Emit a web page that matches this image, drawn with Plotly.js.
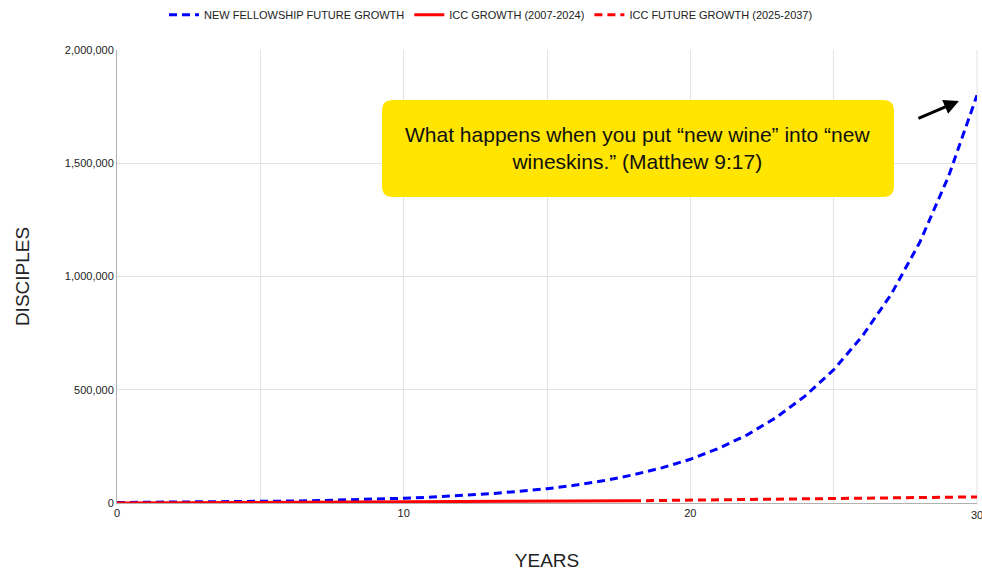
<!DOCTYPE html>
<html>
<head>
<meta charset="utf-8">
<script src="https://cdn.plot.ly/plotly-3.0.1.min.js"></script>
<style>
html,body{margin:0;padding:0;background:#fff;}
#chart{width:982px;height:571px;}
</style>
</head>
<body>
<div id="chart"></div>
<script>
// Data
const newYears = [0,1,2,3,4,5,6,7,8,9,10,11,12,13,14,15,16,17,18,19,20,21,22,23,24,25,26,27,28,29,30];
const newFellowship = [2200,2800,3500,4400,5400,6800,8500,10600,13300,16600,21000,26000,32000,41000,51000,63000,79000,99000,124000,155000,193000,242000,302000,378000,472000,588000,737000,920000,1150000,1440000,1800000];

const iccYears = [0,1,2,3,4,5,6,7,8,9,10,11,12,13,14,15,16,17,18];
const iccGrowth = [100,500,1000,1500,2000,2500,3000,3500,4000,4500,5000,5500,6000,6600,7200,7800,8400,9000,9800];

const iccFutureYears = [18,19,20,21,22,23,24,25,26,27,28,29,30];
const iccFuture = [9800,11000,12200,13400,14600,16000,17400,18800,20300,21900,23600,25300,27000];

const seriesNames = ["NEW FELLOWSHIP FUTURE GROWTH","ICC GROWTH (2007-2024)","ICC FUTURE GROWTH (2025-2037)"];
const xTickVals = [0,10,20];
const xEdgeTick = 30;
const yTickVals = [0,500000,1000000,1500000,2000000];

const calloutText = "What happens when you put “new wine” into “new<br>wineskins.” (Matthew 9:17)";

const traces = [
  {x:newYears, y:newFellowship, name:seriesNames[0], mode:'lines', type:'scatter',
   line:{color:'#0000FF', width:3, dash:'8px,5px'}},
  {x:iccYears, y:iccGrowth, name:seriesNames[1], mode:'lines', type:'scatter',
   line:{color:'#FF0000', width:3}},
  {x:iccFutureYears, y:iccFuture, name:seriesNames[2], mode:'lines', type:'scatter',
   line:{color:'#FF0000', width:3, dash:'8px,5px'}}
];

// rounded callout box in paper coordinates
const x0=0.3081, x1=0.9035, y0=0.6755, y1=0.8896, rx=0.0128, ry=0.0243;
const boxPath = `M ${x0+rx},${y0} L ${x1-rx},${y0} Q ${x1},${y0} ${x1},${y0+ry} L ${x1},${y1-ry} Q ${x1},${y1} ${x1-rx},${y1} L ${x0+rx},${y1} Q ${x0},${y1} ${x0},${y1-ry} L ${x0},${y0+ry} Q ${x0},${y0} ${x0+rx},${y0} Z`;

const layout = {
  width:982, height:571,
  margin:{l:117, r:5, t:50, b:68},
  paper_bgcolor:'#fff', plot_bgcolor:'#fff',
  font:{family:'Liberation Sans, Arial, sans-serif', size:11, color:'#222'},
  showlegend:true,
  legend:{orientation:'h', xref:'container', yref:'container', x:0.5, xanchor:'center', y:0.974, yanchor:'middle',
          font:{size:11, color:'#222'}, itemwidth:30, tracegroupgap:0},
  xaxis:{range:[0,30], tickvals:xTickVals, showgrid:true, gridcolor:'#e3e3e3', gridwidth:1,
         minor:{dtick:5, showgrid:true, gridcolor:'#e3e3e3', gridwidth:1},
         zeroline:false, showline:true, linecolor:'#b0b0b0', linewidth:1, ticks:'',
         tickfont:{size:11, color:'#222'},
         title:{text:'YEARS', font:{size:19, color:'#222'}, standoff:37}, automargin:false},
  yaxis:{range:[0,2000000], tickvals:yTickVals, tickformat:',d', showgrid:true, gridcolor:'#e3e3e3', gridwidth:1,
         zeroline:false, showline:true, linecolor:'#b0b0b0', linewidth:1, ticks:'',
         tickfont:{size:11, color:'#222'},
         title:{text:'DISCIPLES', font:{size:19, color:'#222'}, standoff:30}, automargin:false},
  shapes:[
    {type:'line', xref:'paper', yref:'paper', x0:1, x1:1, y0:0, y1:1, line:{color:'#e3e3e3', width:1}, layer:'below'},
    {type:'path', xref:'paper', yref:'paper', path:boxPath, fillcolor:'#FFE500', line:{width:0}, layer:'above'}
  ],
  annotations:[
    {xref:'paper', yref:'paper', x:0.6058, y:0.7826, text:calloutText, showarrow:false,
     font:{size:21, color:'#111'}, align:'center', xanchor:'center', yanchor:'middle'},
    {xref:'paper', yref:'paper', x:0.979, y:0.8874, text:'', showarrow:true, arrowhead:2, arrowsize:1,
     arrowwidth:3, arrowcolor:'#000', ax:-42, ay:18, standoff:0},
    {xref:'x', yref:'paper', x:xEdgeTick, y:0, yshift:-4, text:String(xEdgeTick), showarrow:false,
     xanchor:'center', yanchor:'top', font:{size:11, color:'#222'}}
  ]
};

Plotly.newPlot('chart', traces, layout, {displayModeBar:false, staticPlot:true});
</script>
</body>
</html>
